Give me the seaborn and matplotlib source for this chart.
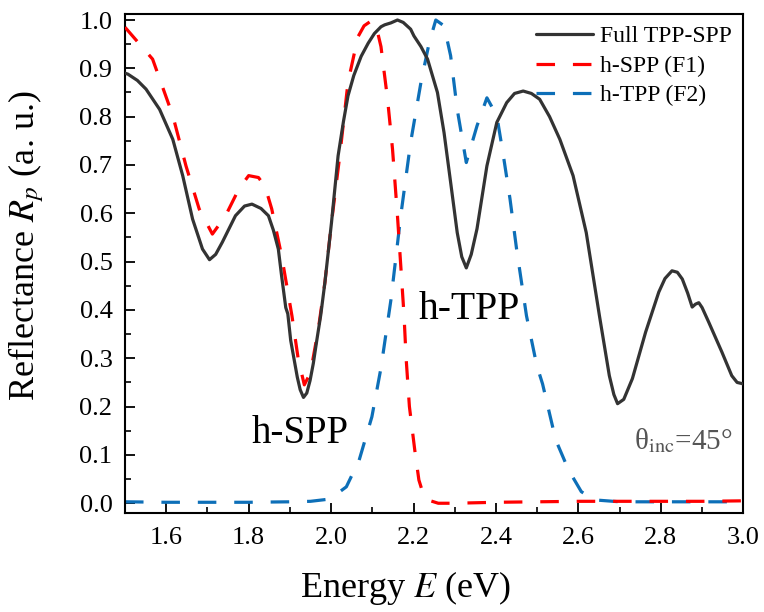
import numpy as np
import pandas as pd
import matplotlib
matplotlib.use("Agg")
import matplotlib.pyplot as plt
import seaborn as sns
from matplotlib.ticker import MultipleLocator

# ---------------- data ----------------
full_E = [1.500, 1.507, 1.530, 1.551, 1.584, 1.616, 1.640, 1.664, 1.688, 1.705, 1.720, 1.736,
          1.768, 1.790, 1.808, 1.830, 1.848, 1.860, 1.872, 1.880, 1.890, 1.895, 1.902, 1.918,
          1.925, 1.933, 1.941, 1.949, 1.957, 1.964, 1.975, 1.985, 2.001, 2.017, 2.030, 2.041,
          2.055, 2.073, 2.090, 2.105, 2.121, 2.130, 2.145, 2.161, 2.175, 2.193, 2.201, 2.218,
          2.234, 2.258, 2.274, 2.290, 2.306, 2.317, 2.328, 2.340, 2.354, 2.378, 2.402, 2.426,
          2.445, 2.466, 2.486, 2.506, 2.530, 2.555, 2.587, 2.619, 2.651, 2.675, 2.686, 2.695,
          2.710, 2.731, 2.763, 2.795, 2.810, 2.827, 2.840, 2.852, 2.865, 2.876, 2.884, 2.892,
          2.900, 2.916, 2.948, 2.972, 2.985, 3.000]
full_R = [0.890, 0.888, 0.875, 0.857, 0.815, 0.753, 0.678, 0.588, 0.526, 0.504, 0.515, 0.540,
          0.595, 0.615, 0.619, 0.610, 0.595, 0.565, 0.526, 0.470, 0.405, 0.392, 0.337, 0.261,
          0.235, 0.219, 0.228, 0.254, 0.290, 0.330, 0.390, 0.457, 0.581, 0.719, 0.790, 0.843,
          0.885, 0.925, 0.952, 0.972, 0.986, 0.990, 0.994, 1.000, 0.995, 0.981, 0.967, 0.945,
          0.919, 0.850, 0.767, 0.664, 0.560, 0.510, 0.487, 0.515, 0.568, 0.698, 0.788, 0.829,
          0.848, 0.853, 0.848, 0.836, 0.800, 0.753, 0.678, 0.560, 0.388, 0.264, 0.225, 0.206,
          0.215, 0.258, 0.354, 0.437, 0.465, 0.481, 0.478, 0.464, 0.435, 0.406, 0.412, 0.415,
          0.405, 0.375, 0.313, 0.264, 0.250, 0.247]

spp_E = [1.500, 1.567, 1.616, 1.648, 1.680, 1.712, 1.744, 1.776, 1.800, 1.824, 1.840, 1.856,
         1.880, 1.905, 1.920, 1.935, 1.950, 1.969, 1.985, 2.001, 2.021, 2.041, 2.065, 2.080,
         2.097, 2.110, 2.121, 2.137, 2.149, 2.161, 2.169, 2.177, 2.182, 2.190, 2.203, 2.213,
         2.225, 2.234, 2.260, 2.300, 2.400, 2.500, 2.600, 2.700, 2.800, 2.900, 3.000]
spp_R = [0.985, 0.919, 0.802, 0.698, 0.609, 0.557, 0.595, 0.650, 0.678, 0.674, 0.655, 0.609,
         0.512, 0.388, 0.300, 0.245, 0.270, 0.360, 0.457, 0.581, 0.719, 0.871, 0.965, 0.988,
         0.998, 0.985, 0.945, 0.836, 0.733, 0.595, 0.492, 0.388, 0.300, 0.200, 0.110, 0.048,
         0.015, 0.007, 0.000, 0.000, 0.002, 0.003, 0.004, 0.004, 0.004, 0.004, 0.005]

tpp_E = [1.500, 1.600, 1.700, 1.800, 1.900, 1.950, 1.990, 2.015, 2.037, 2.068, 2.099, 2.121,
         2.145, 2.169, 2.193, 2.218, 2.238, 2.254, 2.274, 2.290, 2.306, 2.328, 2.354, 2.378,
         2.402, 2.418, 2.434, 2.450, 2.474, 2.499, 2.513, 2.545, 2.576, 2.607, 2.638, 2.700,
         2.800, 2.900, 3.000]
tpp_R = [0.003, 0.002, 0.002, 0.002, 0.003, 0.004, 0.008, 0.020, 0.034, 0.089, 0.179, 0.280,
         0.420, 0.595, 0.747, 0.871, 0.953, 1.000, 0.988, 0.926, 0.815, 0.705, 0.781, 0.839,
         0.802, 0.719, 0.630, 0.526, 0.388, 0.285, 0.247, 0.131, 0.069, 0.024, 0.007, 0.003,
         0.003, 0.003, 0.003]

labels = ["Full TPP-SPP", "h-SPP (F1)", "h-TPP (F2)"]
x_ticks = [1.6, 1.8, 2.0, 2.2, 2.4, 2.6, 2.8, 3.0]
y_ticks = [0.0, 0.1, 0.2, 0.3, 0.4, 0.5, 0.6, 0.7, 0.8, 0.9, 1.0]

# ---------------- style ----------------
sns.set_theme(style="ticks")
plt.rcParams["font.family"] = ["Liberation Serif", "DejaVu Serif"]
plt.rcParams["mathtext.fontset"] = "stix"
plt.rcParams["text.color"] = "black"
plt.rcParams["axes.labelcolor"] = "black"

fig = plt.figure(figsize=(7.64, 6.12), dpi=100)
ax = fig.add_axes([0.1636, 0.1623, 0.8093, 0.8148])

dash = (0, (5.8, 5.6))
sns.lineplot(x=tpp_E, y=tpp_R, ax=ax, color="#0d6fb8", lw=2.3, linestyle=dash, label=labels[2], zorder=2)
sns.lineplot(x=spp_E, y=spp_R, ax=ax, color="#ff0000", lw=2.3, linestyle=dash, label=labels[1], zorder=3)
sns.lineplot(x=full_E, y=full_R, ax=ax, color="#333333", lw=2.3, label=labels[0], zorder=4)

ax.set_xlim(1.5, 3.0)
ax.set_ylim(-0.0195, 1.0124)
ax.set_xticks(x_ticks)
ax.set_xticklabels([f"{t:.1f}" for t in x_ticks])
ax.set_yticks(y_ticks)
ax.set_yticklabels([f"{t:.1f}" for t in y_ticks])
ax.xaxis.set_minor_locator(MultipleLocator(0.1))
ax.yaxis.set_minor_locator(MultipleLocator(0.05))
ax.tick_params(axis="both", which="major", direction="in", length=7, width=1.3,
               labelsize=19, colors="black")
ax.tick_params(axis="x", which="major", pad=10)
ax.tick_params(axis="y", which="major", pad=9)
ax.tick_params(axis="both", which="minor", direction="in", length=4, width=1.2, colors="black")
for s in ax.spines.values():
    s.set_linewidth(1.5)
    s.set_color("black")

ax.set_xlabel("Energy $E$ (eV)", fontsize=26, color="black")
ax.set_ylabel("Reflectance $R_p$ (a. u.)", fontsize=26, color="black")
ax.xaxis.set_label_coords(0.453, -0.113)
ax.yaxis.set_label_coords(-0.128, 0.535)

handles, labs = ax.get_legend_handles_labels()
order = [labs.index(l) for l in labels]
ax.legend([handles[i] for i in order], [labs[i] for i in order], loc="upper right",
          frameon=False, fontsize=17, handlelength=2.4, handletextpad=0.3,
          labelspacing=0.34, borderaxespad=0.1, borderpad=0.4)

ax.text(1.925, 0.145, "h-SPP", fontsize=28, ha="center", va="center", color="black")
ax.text(2.335, 0.40, "h-TPP", fontsize=28.5, ha="center", va="center", color="black")
ax.text(2.855, 0.13, "θ$_{\\mathrm{inc}}$=45°", fontsize=21, ha="center", va="center", color="#555555")

fig.savefig("out.png", dpi=100)
